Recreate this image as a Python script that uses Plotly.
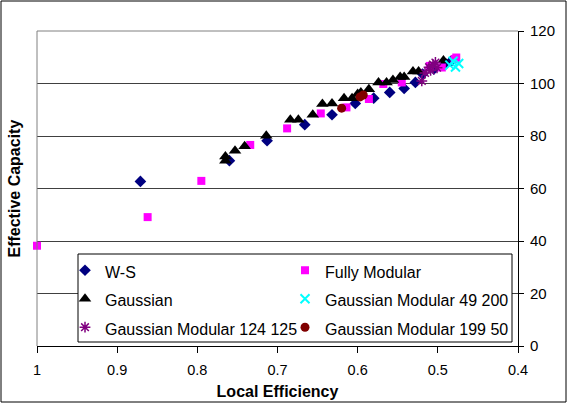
import plotly.graph_objects as go

# ---- data ----
ws_x = [0.871, 0.760, 0.713, 0.666, 0.632, 0.603, 0.580, 0.560, 0.542, 0.528, 0.519, 0.505, 0.490, 0.483]
ws_y = [62.7, 70.6, 78.2, 84.3, 88.1, 92.4, 94.4, 96.6, 98.1, 100.4, 103.6, 105.5, 107.5, 108.6]

fm_x = [1.0, 0.862, 0.795, 0.734, 0.688, 0.646, 0.614, 0.586, 0.568, 0.545, 0.510, 0.495, 0.479, 0.477]
fm_y = [38.2, 49.1, 62.9, 76.6, 82.9, 88.6, 90.9, 94.1, 99.8, 100.4, 106.7, 106.1, 109.3, 109.9]

ga_x = [0.765, 0.765, 0.753, 0.741, 0.714, 0.684, 0.674, 0.656, 0.644, 0.632, 0.617, 0.607,
        0.600, 0.596, 0.586, 0.574, 0.564, 0.556, 0.547, 0.542, 0.531, 0.524, 0.493]
ga_y = [70.6, 72.2, 74.4, 76.1, 80.1, 86.2, 86.2, 88.1, 92.2, 92.4, 94.4, 94.4,
        96.0, 96.6, 97.8, 100.4, 100.4, 101.3, 102.5, 102.5, 104.6, 104.6, 108.8]

g49_x = [0.485, 0.481, 0.478, 0.474]
g49_y = [107.0, 108.5, 106.3, 107.6]

g124_x = [0.520, 0.516, 0.511, 0.506, 0.501, 0.509, 0.503]
g124_y = [101.0, 104.0, 106.2, 107.2, 106.0, 105.0, 108.0]

g199_x = [0.620, 0.597, 0.593]
g199_y = [90.6, 94.9, 95.6]

x_ticks = [1, 0.9, 0.8, 0.7, 0.6, 0.5, 0.4]
x_tick_labels = ["1", "0.9", "0.8", "0.7", "0.6", "0.5", "0.4"]
y_ticks = [0, 20, 40, 60, 80, 100, 120]

FONT = "Liberation Sans, Arial, sans-serif"
W, H = 568, 404
ML, MR, MT, MB = 37, 50, 31, 58
PW, PH = W - ML - MR, H - MT - MB


def px_x(p):
    return (p - ML) / PW


def px_y(p):
    return (H - MB - p) / PH


def leg(name):
    # legend text shown at 16px; the legend font size sets the row spacing
    return '<span style="font-size:16px">' + name + '</span>'


fig = go.Figure()
fig.add_trace(go.Scatter(x=ws_x, y=ws_y, mode="markers", name=leg("W-S"), cliponaxis=False,
                         legend="legend",
                         marker=dict(symbol="diamond", size=9, color="#000080")))
fig.add_trace(go.Scatter(x=fm_x, y=fm_y, mode="markers", name=leg("Fully Modular"), cliponaxis=False,
                         legend="legend2",
                         marker=dict(symbol="square", size=8, color="#FF00FF")))
fig.add_trace(go.Scatter(x=ga_x, y=ga_y, mode="markers", name=leg("Gaussian"), cliponaxis=False,
                         legend="legend",
                         marker=dict(symbol="triangle-up", size=11, color="#000000")))
fig.add_trace(go.Scatter(x=g49_x, y=g49_y, mode="markers", name=leg("Gaussian Modular 49 200"),
                         cliponaxis=False, legend="legend2",
                         marker=dict(symbol="x-thin", size=9, color="#00FFFF",
                                     line=dict(color="#00FFFF", width=2))))
fig.add_trace(go.Scatter(x=g124_x, y=g124_y, mode="markers", name=leg("Gaussian Modular 124 125"),
                         cliponaxis=False, legend="legend",
                         marker=dict(symbol="asterisk", size=9, color="#800080",
                                     line=dict(color="#800080", width=1.5))))
fig.add_trace(go.Scatter(x=g199_x, y=g199_y, mode="markers", name=leg("Gaussian Modular 199 50"),
                         cliponaxis=False, legend="legend2",
                         marker=dict(symbol="circle", size=9, color="#800000")))

legend_common = dict(
    orientation="v", xanchor="left", yanchor="top",
    bgcolor="rgba(0,0,0,0)", borderwidth=0,
    font=dict(family=FONT, size=19.6, color="black"),
    itemwidth=30, traceorder="normal",
)

fig.update_layout(
    width=W, height=H,
    margin=dict(l=ML, r=MR, t=MT, b=MB),
    paper_bgcolor="white", plot_bgcolor="white",
    font=dict(family=FONT, size=14, color="black"),
    showlegend=True,
    legend=dict(legend_common, x=px_x(65), y=px_y(251)),
    legend2=dict(legend_common, x=px_x(285), y=px_y(251)),
    xaxis=dict(
        range=[1, 0.4], tickvals=x_ticks, ticktext=x_tick_labels,
        showgrid=False, zeroline=False, automargin=False,
        showline=True, linecolor="black", linewidth=1,
        ticks="outside", ticklen=6, tickcolor="black",
        ticklabelstandoff=5,
        tickfont=dict(family=FONT, size=14.5),
        title=dict(text="<b>Local Efficiency</b>", font=dict(family=FONT, size=16), standoff=8),
    ),
    yaxis=dict(
        range=[0, 120], tickvals=y_ticks, side="right",
        showgrid=True, gridcolor="#404040", gridwidth=1, zeroline=False, automargin=False,
        showline=True, linecolor="black", linewidth=1,
        ticks="outside", ticklen=5, tickcolor="black",
        ticklabelstandoff=3,
        tickfont=dict(family=FONT, size=15),
    ),
    annotations=[dict(
        text="<b>Effective Capacity</b>", textangle=-90,
        xref="paper", yref="paper", x=px_x(14), y=0.5,
        xanchor="center", yanchor="middle", showarrow=False,
        font=dict(family=FONT, size=16, color="black"),
    )],
    shapes=[
        # grey plot-area border (left and top)
        dict(type="line", xref="paper", yref="paper", x0=0, x1=0, y0=0, y1=1,
             line=dict(color="#808080", width=1)),
        dict(type="line", xref="paper", yref="paper", x0=0, x1=1, y0=1, y1=1,
             line=dict(color="#808080", width=1)),
        # legend box
        dict(type="rect", xref="paper", yref="paper", layer="above",
             x0=px_x(78), x1=px_x(512), y0=px_y(342), y1=px_y(254),
             fillcolor="white", line=dict(color="black", width=1)),
        # outer chart border
        dict(type="rect", xref="paper", yref="paper",
             x0=px_x(1), x1=px_x(W - 2), y0=px_y(H - 2), y1=px_y(1),
             line=dict(color="black", width=1)),
    ],
)

fig.write_html("out.html")
